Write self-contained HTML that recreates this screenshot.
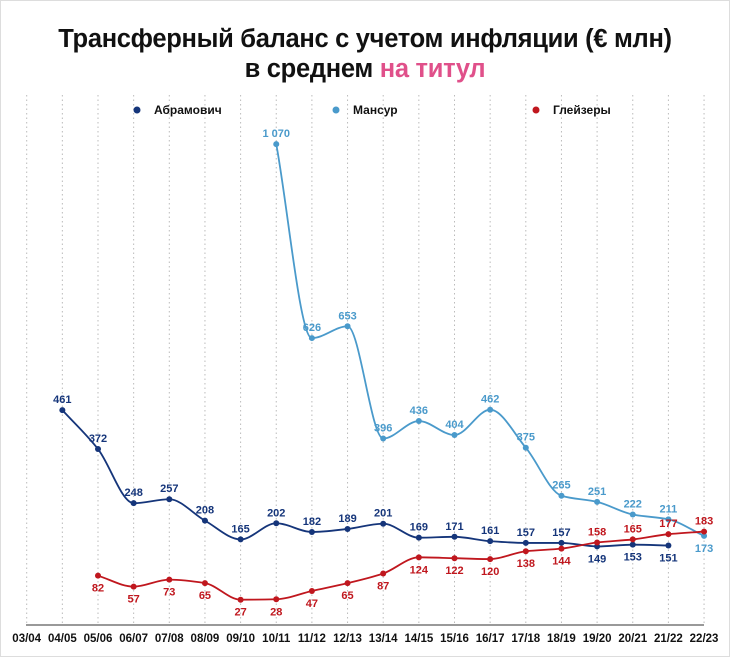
<!DOCTYPE html>
<html><head><meta charset="utf-8">
<style>
body{margin:0;background:#fff;width:730px;height:657px;overflow:hidden;font-family:"Liberation Sans",sans-serif}
#frame{position:absolute;left:0;top:0;width:728px;height:655px;border:1px solid #ddd}
h1{position:absolute;left:0;top:24px;width:730px;margin:0;text-align:center;font-size:25.5px;line-height:30px;font-weight:bold;color:#111;letter-spacing:-0.3px}
.pink{color:#e0508a}
</style></head><body>
<div id="frame"></div>
<h1>Трансферный баланс с учетом инфляции (€ млн)<br>в среднем <span class="pink">на титул</span></h1>
<svg id="chart" width="730" height="657" style="position:absolute;left:0;top:0"></svg>
<script>
const categories=["03/04","04/05","05/06","06/07","07/08","08/09","09/10","10/11","11/12","12/13","13/14","14/15","15/16","16/17","17/18","18/19","19/20","20/21","21/22","22/23"];
const abramovich=[null,461,372,248,257,208,165,202,182,189,201,169,171,161,157,157,149,153,151,null];
const mansour=[null,null,null,null,null,null,null,1070,626,653,396,436,404,462,375,265,251,222,211,173];
const glazers=[null,null,82,57,73,65,27,28,47,65,87,124,122,120,138,144,158,165,177,183];
const seriesNames=["Абрамович","Мансур","Глейзеры"];
const NS="http://www.w3.org/2000/svg";
const svg=document.getElementById('chart');
const x=i=>26.7+i*35.65;
const y=v=>611.5-v*0.4368;
function el(t,a){const e=document.createElementNS(NS,t);for(const k in a)e.setAttribute(k,a[k]);svg.appendChild(e);return e;}
categories.forEach((c,i)=>{
 const g=el('line',{x1:x(i),x2:x(i),y1:95,y2:625,stroke:'#bbb','stroke-width':1,'stroke-dasharray':'1.5 3'});
 
 
 const t=el('text',{x:x(i),y:642,'text-anchor':'middle','font-size':11.5,'font-weight':'bold',fill:'#111'});
 t.textContent=c;
 
 
});
const ax=el('line',{x1:26,x2:704,y1:625,y2:625,stroke:'#333','stroke-width':1});


function monotonePath(pts){
 const n=pts.length,dx=[],s=[],m=[];
 for(let k=0;k<n-1;k++){dx[k]=pts[k+1][0]-pts[k][0];s[k]=(pts[k+1][1]-pts[k][1])/dx[k];}
 m[0]=s[0];m[n-1]=s[n-2];
 for(let k=1;k<n-1;k++){m[k]=(s[k-1]*s[k]<=0)?0:(3*(dx[k-1]+dx[k]))/((2*dx[k]+dx[k-1])/s[k-1]+(dx[k]+2*dx[k-1])/s[k]);}
 let d='M'+pts[0][0]+','+pts[0][1];
 for(let k=0;k<n-1;k++){const h=dx[k]/3;
  d+=' C'+(pts[k][0]+h)+','+(pts[k][1]+m[k]*h)+' '+(pts[k+1][0]-h)+','+(pts[k+1][1]-m[k+1]*h)+' '+pts[k+1][0]+','+pts[k+1][1];}
 return d;
}
function draw(data,color,name,below){
 const pts=[];data.forEach((v,i)=>{if(v!=null)pts.push([x(i),y(v),v,i]);});
 const path=el('path',{d:monotonePath(pts),fill:'none',stroke:color,'stroke-width':1.8});
 
 
 pts.forEach(p=>{
  const c=el('circle',{cx:p[0],cy:p[1],r:3,fill:color});
  
  
  const b=below(p[2],p[3]);
  const t=el('text',{x:p[0],y:b?p[1]+16:p[1]-7,'text-anchor':'middle','font-size':11,'font-weight':'bold',fill:color});
  t.textContent=p[2]>=1000?String(p[2]).replace(/^(\d)(\d{3})$/,'$1 $2'):p[2];
  
  
 });
}
draw(mansour,'#4a9acb','mansour',(v,i)=>i==19);
draw(abramovich,'#15357a','abramovich',(v,i)=>i>=16);
draw(glazers,'#c0171e','glazers',(v,i)=>i<16);
const legendColors=['#15357a','#4a9acb','#c0171e'];
const legendX=[137,336,536];
seriesNames.forEach((n,k)=>{
 const c=el('circle',{cx:legendX[k],cy:110,r:3.5,fill:legendColors[k]});
 
 
 const t=el('text',{x:legendX[k]+17,y:114,'font-size':12,'font-weight':'bold',fill:'#111'});
 t.textContent=n;
 
 
});
</script>
</body></html>
